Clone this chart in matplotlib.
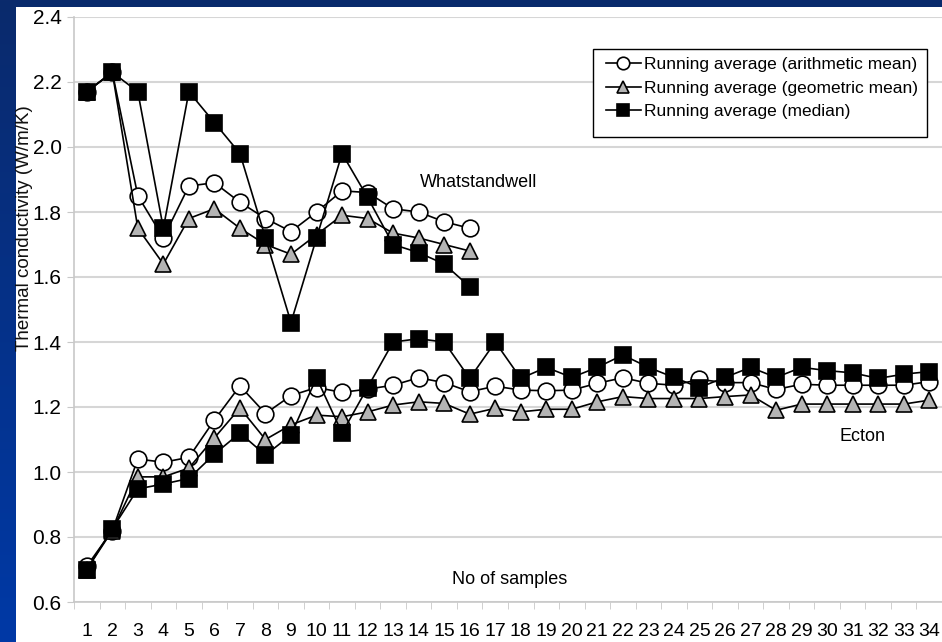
import numpy as np
from matplotlib import pyplot as plt
from matplotlib.colors import LinearSegmentedColormap
from matplotlib.patches import Rectangle

plt.rcParams['font.family'] = ['Liberation Sans', 'DejaVu Sans']

samples = list(range(1, 35))

# Whatstandwell, samples 1-16
wh_mean = [2.17, 2.23, 1.85, 1.72, 1.88, 1.89, 1.83, 1.78, 1.74, 1.80, 1.865, 1.86, 1.81, 1.80, 1.77, 1.75]
wh_geo = [2.17, 2.23, 1.75, 1.64, 1.78, 1.81, 1.75, 1.70, 1.67, 1.73, 1.79, 1.78, 1.735, 1.72, 1.70, 1.68]
wh_median = [2.17, 2.23, 2.17, 1.75, 2.17, 2.075, 1.98, 1.72, 1.46, 1.72, 1.98, 1.845, 1.70, 1.675, 1.64, 1.57]

# Ecton, samples 1-34
ec_mean = [0.71, 0.82, 1.04, 1.03, 1.045, 1.16, 1.265, 1.18, 1.235, 1.26, 1.245, 1.255, 1.267, 1.29,
           1.275, 1.247, 1.264, 1.252, 1.25, 1.252, 1.273, 1.29, 1.273, 1.267, 1.285, 1.275, 1.275,
           1.254, 1.27, 1.267, 1.267, 1.267, 1.267, 1.278]
ec_geo = [0.70, 0.82, 0.985, 0.985, 1.012, 1.105, 1.197, 1.10, 1.145, 1.175, 1.17, 1.185, 1.206, 1.216,
          1.211, 1.178, 1.196, 1.185, 1.193, 1.193, 1.216, 1.232, 1.226, 1.226, 1.226, 1.232, 1.237,
          1.19, 1.209, 1.209, 1.209, 1.209, 1.209, 1.221]
ec_median = [0.70, 0.825, 0.948, 0.963, 0.98, 1.055, 1.12, 1.052, 1.114, 1.29, 1.12, 1.26, 1.40, 1.41,
             1.40, 1.288, 1.40, 1.288, 1.322, 1.291, 1.322, 1.36, 1.322, 1.291, 1.26, 1.291, 1.322,
             1.291, 1.322, 1.312, 1.305, 1.288, 1.301, 1.309]

series = [
    ('Running average (arithmetic mean)', wh_mean, ec_mean, dict(marker='o', mfc='white', ms=12)),
    ('Running average (geometric mean)', wh_geo, ec_geo, dict(marker='^', mfc='#b4b4b4', ms=12)),
    ('Running average (median)', wh_median, ec_median, dict(marker='s', mfc='black', ms=12)),
]

fig = plt.figure(figsize=(9.42, 6.42), dpi=100)

# slide background: navy gradient with a white panel
bg = fig.add_axes([0, 0, 1, 1], zorder=-20)
blue = LinearSegmentedColormap.from_list('slide', ['#0a2a6c', '#0039a6'])
bg.imshow(np.linspace(0, 1, 256).reshape(-1, 1), aspect='auto', cmap=blue, extent=(0, 1, 0, 1))
bg.add_patch(Rectangle((16 / 942, 0), 1, 1 - 7 / 642, facecolor='white', edgecolor='none'))
bg.set_xlim(0, 1)
bg.set_ylim(0, 1)
bg.axis('off')

ax = fig.add_axes([74 / 942, 40 / 642, 868 / 942, 585 / 642])
ax.set_facecolor('white')

x = np.arange(len(samples))
handles = []
for i, (label, wh, ec, style) in enumerate(series):
    h, = ax.plot(x[:len(wh)], wh, color='black', lw=1.2, mec='black', mew=1.2, zorder=3 + i, label=label, **style)
    ax.plot(x[:len(ec)], ec, color='black', lw=1.2, mec='black', mew=1.2, zorder=3 + i, **style)
    handles.append(h)

ax.set_xlim(-0.5, len(samples) - 0.5)
ax.set_ylim(0.6, 2.4)
yt = np.arange(0.6, 2.41, 0.2)
ax.set_yticks(yt)
ax.set_yticklabels(['{:.1f}'.format(v) for v in yt], fontsize=15)
ax.set_xticks(x)
ax.set_xticklabels([str(s) for s in samples], fontsize=14)
ax.set_xticks(np.arange(-0.5, len(samples)), minor=True)
ax.tick_params(axis='x', which='major', length=0, pad=15)
ax.tick_params(axis='x', which='minor', length=5, color='#c8c8c8')
ax.tick_params(axis='y', length=5, color='#c8c8c8', pad=4)
ax.grid(axis='y', color='#d6d6d6', lw=1.5)
ax.set_axisbelow(True)
for side in ['top', 'right']:
    ax.spines[side].set_visible(False)
for side in ['left', 'bottom']:
    ax.spines[side].set_color('#c8c8c8')
    ax.spines[side].set_linewidth(1.2)

ax.text(13.05, 1.89, 'Whatstandwell', fontsize=13, va='center')
ax.text(29.5, 1.108, 'Ecton', fontsize=13, va='center')
ax.text(16.58, 0.67, 'No of samples', fontsize=13, ha='center', va='center')

fig.text(25 / 942, 0.645, 'Thermal conductivity (W/m/K)', rotation=90, fontsize=13.5,
         ha='center', va='center', color='#111111')

# legend box
ax.add_patch(Rectangle((593 / 942, 1 - 137 / 642), 334 / 942, 88 / 642, transform=fig.transFigure,
                       facecolor='white', edgecolor='black', lw=1.0, zorder=8, clip_on=False))
leg = ax.legend(handles=handles, loc='center', bbox_to_anchor=(762 / 942, 1 - 88 / 642),
                bbox_transform=fig.transFigure, fontsize=12.5, frameon=False,
                handlelength=2.0, handletextpad=0.2, markerscale=0.75, labelspacing=0.5)
leg.set_zorder(9)

plt.savefig('out.png', dpi=100)
